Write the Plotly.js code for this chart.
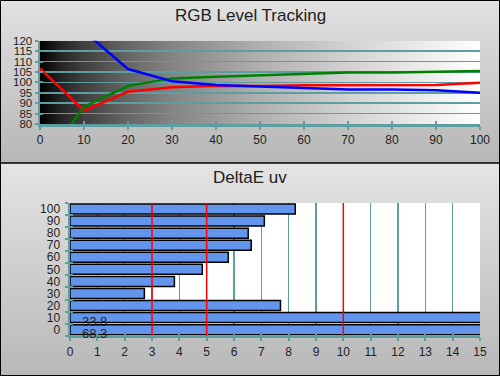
<!DOCTYPE html>
<html>
<head>
<meta charset="utf-8">
<script src="https://cdn.plot.ly/plotly-3.0.1.min.js"></script>
<style>
html,body{margin:0;padding:0;background:#fff;}
#chart{width:500px;height:376px;}
</style>
</head>
<body>
<div id="chart"></div>
<script>
// ---- data ----
const levels = [0, 10, 20, 30, 40, 50, 60, 70, 80, 90, 100];
const redLevel   = [106.7, 86.4, 95.5, 97.6, 98.4, 98.3, 98.6, 98.7, 98.7, 98.7, 99.8];
const greenLevel = [58.7, 88.3, 98.3, 101.9, 102.7, 103.4, 104.0, 104.7, 104.7, 105.0, 105.4];
const blueLevel  = [140.0, 124.5, 106.4, 100.5, 98.7, 97.9, 97.1, 96.6, 96.6, 96.2, 95.0];

const deltaCats = ['0', '10', '20', '30', '40', '50', '60', '70', '80', '90', '100'];
const deltaE = [68.3, 33.8, 7.70, 2.72, 3.82, 4.84, 5.79, 6.63, 6.52, 7.11, 8.24];
const thresholds = [3, 5, 10];

const topTitle = 'RGB Level Tracking';
const bottomTitle = 'DeltaE uv';

// ---- styling ----
const TEAL = '#5f9ea0';
const FONT = 'Liberation Sans, Arial, sans-serif';
const LBL = '#222222';
const W = 500, H = 376;
const splitY = 163; // px from top
const deltaMax = 15;

function svgUri(svg) { return 'data:image/svg+xml;utf8,' + encodeURIComponent(svg); }
const vGrad = (c1, c2) => svgUri(
  '<svg xmlns="http://www.w3.org/2000/svg" width="100" height="100" preserveAspectRatio="none">' +
  '<defs><linearGradient id="g" x1="0" y1="0" x2="0" y2="1">' +
  '<stop offset="0" stop-color="' + c1 + '"/><stop offset="1" stop-color="' + c2 + '"/>' +
  '</linearGradient></defs><rect width="100" height="100" fill="url(#g)"/></svg>');
const hGrad = svgUri(
  '<svg xmlns="http://www.w3.org/2000/svg" width="400" height="100" preserveAspectRatio="none">' +
  '<defs><linearGradient id="g" x1="0" y1="0" x2="1" y2="0">' +
  '<stop offset="0" stop-color="#000000"/>' +
  '<stop offset="0.05" stop-color="#262626"/>' +
  '<stop offset="0.1" stop-color="#404040"/>' +
  '<stop offset="0.2" stop-color="#666666"/>' +
  '<stop offset="0.3" stop-color="#848484"/>' +
  '<stop offset="0.5" stop-color="#b0b0b0"/>' +
  '<stop offset="0.7" stop-color="#d2d2d2"/>' +
  '<stop offset="0.9" stop-color="#f0f0f0"/>' +
  '<stop offset="1" stop-color="#ffffff"/>' +
  '</linearGradient></defs><rect width="400" height="100" fill="url(#g)"/></svg>');

const py = v => 1 - v / H; // pixel-from-top -> paper
const px = v => v / W;

const lineStyle = (c) => ({color: c, width: 2.5});
const traces = [
  {x: levels, y: redLevel, type: 'scatter', mode: 'lines', line: lineStyle('#ff0000'), xaxis: 'x', yaxis: 'y', hoverinfo: 'skip'},
  {x: levels, y: greenLevel, type: 'scatter', mode: 'lines', line: lineStyle('#008000'), xaxis: 'x', yaxis: 'y', hoverinfo: 'skip'},
  {x: levels, y: blueLevel, type: 'scatter', mode: 'lines', line: lineStyle('#0000ff'), xaxis: 'x', yaxis: 'y', hoverinfo: 'skip'},
  {x: deltaE, y: deltaCats, type: 'bar', orientation: 'h', width: 0.83,
   marker: {color: '#6495ed', line: {color: '#000000', width: 1.5}},
   xaxis: 'x2', yaxis: 'y2', hoverinfo: 'skip'},
  {x: [], y: [], type: 'scatter', xaxis: 'x3', yaxis: 'y3', hoverinfo: 'skip'},
  {x: deltaCats.map(() => null), y: deltaCats, type: 'scatter', mode: 'markers', xaxis: 'x4', yaxis: 'y4',
   marker: {opacity: 0}, hoverinfo: 'skip'}
];

const tickFont = {family: FONT, size: 12, color: LBL};
const baseAx = {
  showline: true, linecolor: TEAL, linewidth: 2.5,
  ticks: 'outside', tickcolor: TEAL, tickwidth: 2, ticklen: 3,
  tickfont: tickFont, zeroline: false, fixedrange: true
};
const overlayAx = {
  showline: false, ticks: 'inside', tickcolor: TEAL, tickwidth: 2, ticklen: 3,
  showticklabels: false, showgrid: false, zeroline: false, fixedrange: true
};

const topDomX = [px(40), px(480)];
const topDomY = [py(124), py(40.7)];
const botDomX = [px(70), px(480)];
const botDomY = [py(335.7), py(203)];

const annotations = [
  {text: topTitle, xref: 'paper', yref: 'paper', x: 0.5, y: py(16), xanchor: 'center', yanchor: 'middle',
   showarrow: false, font: {family: FONT, size: 17, color: '#202020'}},
  {text: bottomTitle, xref: 'paper', yref: 'paper', x: 0.5, y: py(178), xanchor: 'center', yanchor: 'middle',
   showarrow: false, font: {family: FONT, size: 17, color: '#202020'}}
];
deltaE.forEach((v, i) => {
  if (v > deltaMax) {
    annotations.push({text: v.toFixed(1), xref: 'x2', yref: 'y2', x: 0, y: i,
      xanchor: 'left', yanchor: 'middle', xshift: 10, yshift: -4, showarrow: false,
      font: {family: FONT, size: 13, color: '#222'}});
  }
});

const shapes = [
  {type: 'rect', xref: 'x2 domain', yref: 'y2 domain', x0: 0, x1: 1, y0: 0, y1: 1,
   fillcolor: '#ffffff', line: {width: 0}, layer: 'below'},
  {type: 'line', xref: 'paper', yref: 'paper', x0: 0, x1: 1, y0: py(splitY), y1: py(splitY),
   line: {color: '#000', width: 1.5}},
  {type: 'rect', xref: 'paper', yref: 'paper', x0: px(0.5), x1: px(W - 0.5), y0: py(H - 0.5), y1: py(0.5),
   line: {color: '#000', width: 1}}
];
thresholds.forEach(t => shapes.push({type: 'line', xref: 'x2', yref: 'y2 domain', x0: t, x1: t, y0: 0, y1: 1,
  line: {color: '#ff0000', width: 1.5}, layer: 'above'}));

const layout = {
  width: W, height: H,
  margin: {l: 0, r: 0, t: 0, b: 0, pad: 0},
  paper_bgcolor: '#d0d0d0', plot_bgcolor: 'rgba(0,0,0,0)',
  showlegend: false,
  font: {family: FONT},
  xaxis: Object.assign({}, baseAx, {domain: topDomX, anchor: 'y', range: [0, 100], dtick: 10, tick0: 0, showgrid: false}),
  yaxis: Object.assign({}, baseAx, {domain: topDomY, anchor: 'x', range: [80, 120], dtick: 5, tick0: 80,
    tickfont: {family: FONT, size: 11.5, color: LBL},
    showgrid: true, gridcolor: TEAL, gridwidth: 1.5}),
  xaxis3: Object.assign({}, overlayAx, {overlaying: 'x', anchor: 'y3', range: [0, 100], dtick: 10, tick0: 0}),
  yaxis3: Object.assign({}, overlayAx, {overlaying: 'y', anchor: 'x3', range: [80, 120], dtick: 5, tick0: 80}),
  xaxis2: Object.assign({}, baseAx, {domain: botDomX, anchor: 'y2', range: [0, deltaMax], dtick: 1, tick0: 0,
    showgrid: true, gridcolor: TEAL, gridwidth: 1.5}),
  yaxis2: Object.assign({}, baseAx, {domain: botDomY, anchor: 'x2', type: 'category', categoryorder: 'array',
    categoryarray: deltaCats, range: [-0.5, 10.5], tickson: 'boundaries', tickmode: 'linear', tick0: 0, dtick: 1,
    ticklabelstandoff: 5, showgrid: false}),
  xaxis4: Object.assign({}, overlayAx, {overlaying: 'x2', anchor: 'y4', range: [0, deltaMax], dtick: 1, tick0: 0}),
  yaxis4: Object.assign({}, overlayAx, {overlaying: 'y2', anchor: 'x4', type: 'category', categoryorder: 'array',
    categoryarray: deltaCats, range: [-0.5, 10.5], tickson: 'boundaries', tickmode: 'linear', tick0: 0, dtick: 1}),
  images: [
    {source: vGrad('#e2e2e2', '#b6b6b6'), xref: 'paper', yref: 'paper', x: 0, y: 1, sizex: 1, sizey: 1 - py(splitY),
     xanchor: 'left', yanchor: 'top', sizing: 'stretch', layer: 'below'},
    {source: vGrad('#e4e4e4', '#b8b8b8'), xref: 'paper', yref: 'paper', x: 0, y: py(splitY), sizex: 1, sizey: py(splitY),
     xanchor: 'left', yanchor: 'top', sizing: 'stretch', layer: 'below'},
    {source: hGrad, xref: 'x', yref: 'y', x: 0, y: 120, sizex: 100, sizey: 40,
     xanchor: 'left', yanchor: 'top', sizing: 'stretch', layer: 'below'}
  ],
  annotations: annotations,
  shapes: shapes
};

Plotly.newPlot('chart', traces, layout, {displayModeBar: false, staticPlot: true});
</script>
</body>
</html>
